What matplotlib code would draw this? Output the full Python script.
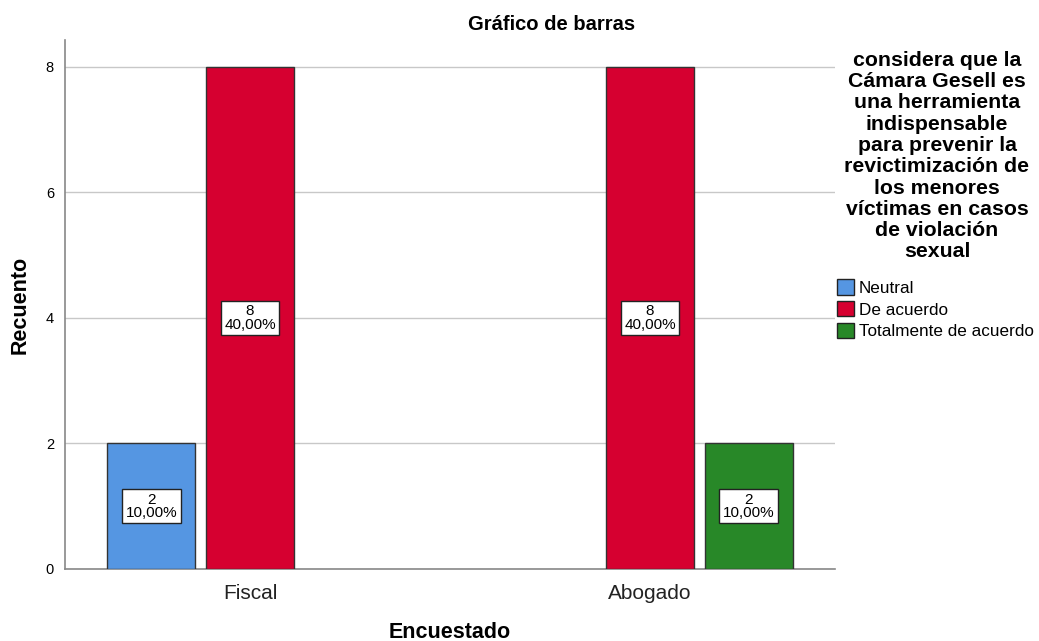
import numpy as np
import matplotlib.pyplot as plt
from matplotlib.patches import Patch

plt.rcParams['font.family'] = ['Liberation Sans', 'DejaVu Sans']

categories = ['Fiscal', 'Abogado']
series_names = ['Neutral', 'De acuerdo', 'Totalmente de acuerdo']
counts = [[2, 0], [8, 8], [0, 2]]
percents = [['10,00%', ''], ['40,00%', '40,00%'], ['', '10,00%']]
colors = ['#5596E2', '#D60030', '#288828']

legend_title = ('considera que la\nCámara Gesell es\nuna herramienta\nindispensable\n'
                'para prevenir la\nrevictimización de\nlos menores\nvíctimas en casos\n'
                'de violación\nsexual')


def main():
    fig = plt.figure(figsize=(10.39, 6.41), dpi=100)
    ax = fig.add_axes([65 / 1039, 1 - 569 / 641, 770 / 1039, 529 / 641])

    x = np.arange(len(categories))
    width = 0.22
    step = 0.2465
    for i, name in enumerate(series_names):
        for j in range(len(categories)):
            v = counts[i][j]
            if v == 0:
                continue
            xpos = x[j] + (i - 1) * step
            ax.bar(xpos, v, width=width, color=colors[i], edgecolor='#333333',
                   linewidth=1.0, zorder=3)
            ax.text(xpos, v / 2, f'{v}\n{percents[i][j]}', ha='center', va='center',
                    fontsize=11, linespacing=0.95, zorder=4,
                    bbox=dict(boxstyle='square,pad=0.22', facecolor='white',
                              edgecolor='#222222', linewidth=1.0))

    ax.set_xlim(-0.4625, 1.4625)
    ax.set_ylim(0, 8.43)
    ax.set_yticks([0, 2, 4, 6, 8])
    ax.set_xticks(x)
    ax.set_xticklabels(categories, fontsize=15, color='#222222')
    ax.tick_params(axis='y', labelsize=10.5, length=0, pad=8)
    ax.tick_params(axis='x', length=0, pad=11)
    ax.yaxis.grid(True, color='#c8c8c8', linewidth=1.0, zorder=0)
    for s in ['top', 'right']:
        ax.spines[s].set_visible(False)
    for s in ['left', 'bottom']:
        ax.spines[s].set_color('#888888')
        ax.spines[s].set_linewidth(1.2)

    ax.set_xlabel('Encuestado', fontsize=15.5, fontweight='bold', va='center')
    ax.xaxis.set_label_coords(0.5, (569 - 632) / 529)
    ax.set_ylabel('Recuento', fontsize=15.5, fontweight='bold', va='center')
    ax.yaxis.set_label_coords((20 - 65) / 770, (569 - 305) / 529)

    fig.text(552 / 1039, 1 - 25 / 641, 'Gráfico de barras', ha='center', va='center',
             fontsize=14.5, fontweight='bold')

    fig.text(937 / 1039, 1 - 51 / 641, legend_title, ha='center', va='top',
             multialignment='center', fontsize=15.3, fontweight='bold', linespacing=1.15)

    handles = [Patch(facecolor=c, edgecolor='#222222') for c in colors]
    fig.legend(handles, series_names, loc='upper left', bbox_to_anchor=(834 / 1039, 1 - 276 / 641),
               frameon=False, fontsize=12.3, handlelength=0.95, handleheight=1.0,
               handletextpad=0.3, labelspacing=0.3, borderaxespad=0, borderpad=0.2)

    fig.savefig('out.png', dpi=100)


if __name__ == '__main__':
    main()
